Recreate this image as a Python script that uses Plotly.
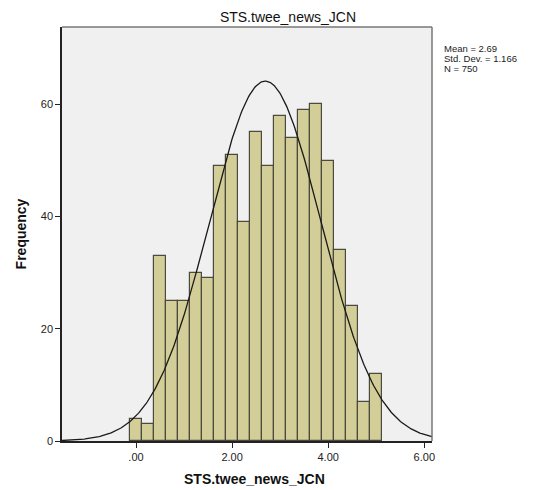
import numpy as np
import plotly.graph_objects as go

# Data
bin_centers = [0.00, 0.25, 0.50, 0.75, 1.00, 1.25, 1.50, 1.75, 2.00, 2.25, 2.50,
               2.75, 3.00, 3.25, 3.50, 3.75, 4.00, 4.25, 4.50, 4.75, 5.00]
frequencies = [4, 3, 33, 25, 25, 30, 29, 49, 51, 39, 55,
               49, 58, 54, 59, 60, 50, 34, 24, 7, 12]
bin_width = 0.25
mean = 2.69
std_dev = 1.166
n_total = 750
x_tick_vals = [0, 2, 4, 6]
x_tick_labels = [".00", "2.00", "4.00", "6.00"]
y_tick_vals = [0, 20, 40, 60]
stats_lines = [f"Mean = {mean}", f"Std. Dev. = {std_dev}", f"N = {n_total}"]

x_min, x_max = -1.54, 6.16
xc = np.linspace(x_min, x_max, 400)
yc = n_total * bin_width * np.exp(-0.5 * ((xc - mean) / std_dev) ** 2) / (std_dev * np.sqrt(2 * np.pi))

fig = go.Figure()
fig.add_trace(go.Bar(
    x=bin_centers, y=frequencies, width=bin_width,
    marker=dict(color="#D3CE97", line=dict(color="#4a4a40", width=1.2)),
    showlegend=False, hoverinfo="skip",
))
fig.add_trace(go.Scatter(
    x=xc, y=yc, mode="lines", line=dict(color="#1a1a1a", width=1.3),
    showlegend=False, hoverinfo="skip",
))

annotations = [
    dict(text=line, xref="paper", yref="paper", x=1.028, y=0.949 - 0.025 * i,
         xanchor="left", yanchor="middle", showarrow=False,
         font=dict(size=9.5, color="#222"))
    for i, line in enumerate(stats_lines)
]
annotations.append(
    dict(text="<b>STS.twee_news_JCN</b>", xref="paper", yref="paper",
         x=0.52, y=-0.092, xanchor="center", yanchor="middle",
         showarrow=False, font=dict(size=14, color="#111"))
)

fig.update_layout(
    width=549, height=490,
    margin=dict(l=37, r=125, t=19, b=57),
    paper_bgcolor="white", plot_bgcolor="#F0F0F0",
    font=dict(family="Liberation Sans, Arial, sans-serif", color="#222"),
    bargap=0,
    title=dict(text="STS.twee_news_JCN", x=0.51, xanchor="center", y=0.982, yanchor="middle",
               font=dict(size=14, color="#111")),
    xaxis=dict(
        range=[x_min, x_max], tickvals=x_tick_vals, ticktext=x_tick_labels,
        ticks="outside", ticklen=5, tickcolor="#222", tickfont=dict(size=11, color="#222"),
        showgrid=False, zeroline=False, showline=True, linecolor="#222", linewidth=1.5,
        mirror=False,
    ),
    yaxis=dict(
        range=[0, 73.8], tickvals=y_tick_vals,
        ticks="outside", ticklen=5, tickcolor="#222", tickfont=dict(size=11, color="#222"),
        showgrid=False, zeroline=False, showline=True, linecolor="#222", linewidth=1.5,
        title=dict(text="<b>Frequency</b>", font=dict(size=14, color="#111"), standoff=11),
    ),
    shapes=[
        dict(type="line", xref="paper", yref="paper", x0=0, x1=1, y0=1, y1=1,
             line=dict(color="#777", width=1.5)),
        dict(type="line", xref="paper", yref="paper", x0=1, x1=1, y0=0, y1=1,
             line=dict(color="#777", width=1.5)),
    ],
    annotations=annotations,
)

fig.write_html("out.html")
